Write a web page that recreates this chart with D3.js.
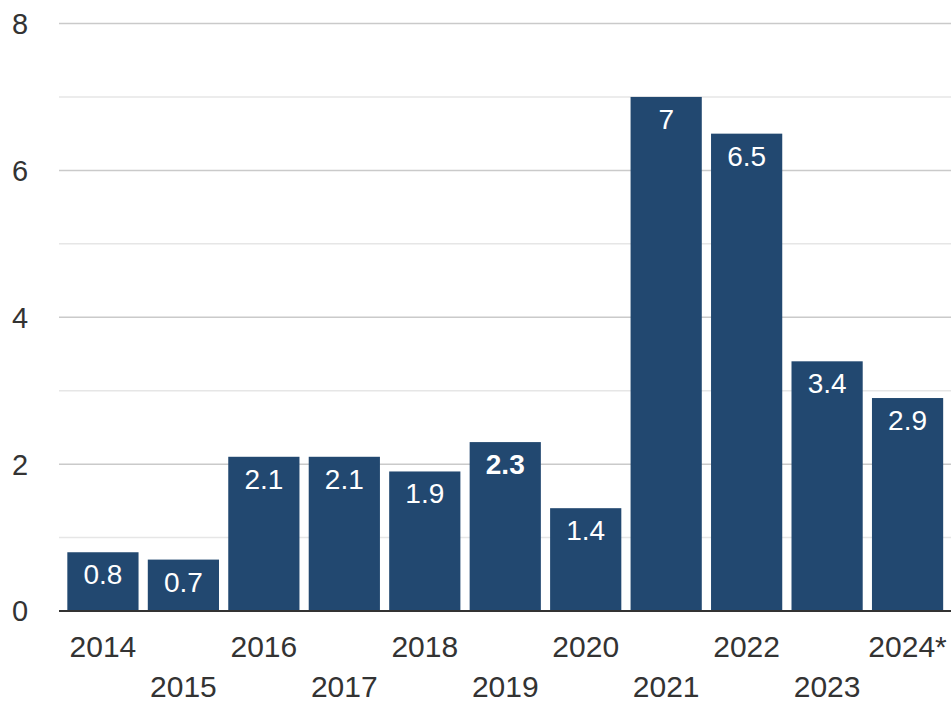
<!DOCTYPE html>
<html>
<head>
<meta charset="utf-8">
<script src="https://cdn.jsdelivr.net/npm/d3@7"></script>
<style>
  html, body { margin: 0; padding: 0; background: #fff; }
  svg { display: block; font-family: "Liberation Sans", Arial, sans-serif; }
</style>
</head>
<body>
<svg id="chart" width="951" height="705"></svg>
<script>
// Yearly values
const years = ["2014", "2015", "2016", "2017", "2018", "2019", "2020", "2021", "2022", "2023", "2024*"];
const values = [0.8, 0.7, 2.1, 2.1, 1.9, 2.3, 1.4, 7, 6.5, 3.4, 2.9];
const boldLabels = ["2019"];
const majorTicks = [0, 2, 4, 6, 8];
const minorTicks = [1, 3, 5, 7];

const svg = d3.select("#chart");
const W = 951, H = 705;

const x = d3.scaleBand()
  .domain(years)
  .range([62.5, 948])
  .paddingInner(0.115)
  .paddingOuter(0.06);

const y = d3.scaleLinear().domain([0, 8]).range([611, 23.5]);

const gridLeft = 59, gridRight = W;

// minor gridlines
svg.append("g").selectAll("line").data(minorTicks).join("line")
  .attr("x1", gridLeft).attr("x2", gridRight)
  .attr("y1", d => y(d)).attr("y2", d => y(d))
  .attr("stroke", "#e6e6e6").attr("stroke-width", 1.5);

// major gridlines
svg.append("g").selectAll("line").data(majorTicks.filter(d => d > 0)).join("line")
  .attr("x1", gridLeft).attr("x2", gridRight)
  .attr("y1", d => y(d)).attr("y2", d => y(d))
  .attr("stroke", "#cacaca").attr("stroke-width", 1.5);

// y-axis labels
svg.append("g").selectAll("text").data(majorTicks).join("text")
  .attr("x", 20).attr("y", d => y(d))
  .attr("dy", "0.36em")
  .attr("text-anchor", "middle")
  .attr("font-size", 29)
  .attr("fill", "#333")
  .text(d => d);

// bars
svg.append("g").selectAll("rect").data(years).join("rect")
  .attr("x", d => x(d))
  .attr("width", x.bandwidth())
  .attr("y", (d, i) => y(values[i]))
  .attr("height", (d, i) => y(0) - y(values[i]))
  .attr("fill", "#224870");

// value labels inside bars
svg.append("g").selectAll("text").data(years).join("text")
  .attr("x", d => x(d) + x.bandwidth() / 2)
  .attr("y", (d, i) => y(values[i]) + 32)
  .attr("text-anchor", "middle")
  .attr("font-size", 28)
  .attr("font-weight", d => boldLabels.includes(d) ? "bold" : "normal")
  .attr("fill", "#fff")
  .text((d, i) => values[i]);

// baseline
svg.append("line")
  .attr("x1", gridLeft).attr("x2", gridRight)
  .attr("y1", y(0)).attr("y2", y(0))
  .attr("stroke", "#333").attr("stroke-width", 2);

// x-axis labels, staggered over two rows
svg.append("g").selectAll("text").data(years).join("text")
  .attr("x", d => x(d) + x.bandwidth() / 2)
  .attr("y", (d, i) => i % 2 === 0 ? 657 : 697)
  .attr("text-anchor", "middle")
  .attr("font-size", 30)
  .attr("fill", "#333")
  .text(d => d);
</script>
</body>
</html>
